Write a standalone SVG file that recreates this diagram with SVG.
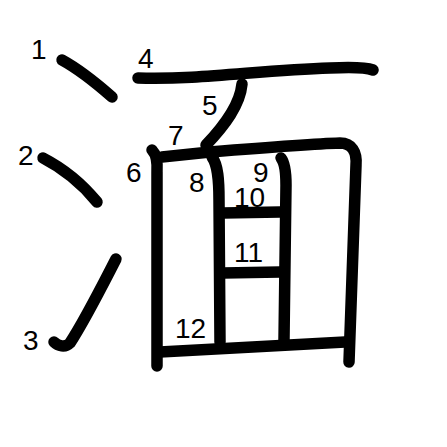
<svg xmlns="http://www.w3.org/2000/svg" width="447" height="447" viewBox="0 0 447 447">
<style>
.s{fill:none;stroke:#000;stroke-width:11.5;stroke-linecap:round;stroke-linejoin:round}
.n{font-family:"Liberation Sans",Arial,sans-serif;font-size:28px;fill:#000}
</style>
<rect width="447" height="447" fill="#fff"/>
<g id="strokes">
<path id="s1" class="s" d="M62,60 Q83,71.5 112,97"/>
<path id="s2" class="s" d="M43,158 Q74,174 97,202"/>
<path id="s3" class="s" d="M54,342 C58,346 65,348 70,343 C85,320 100,290 116,259"/>
<path id="s4" class="s" d="M138,78 C200,80 260,70 330,68 C350,67 365,67 373,70"/>
<path id="s5" class="s" d="M242,84 C240,105 225,125 206,145"/>
<path id="s6" class="s" d="M152,150 Q158,156 157,172 L157,366"/>
<path id="s7" class="s" d="M162,157 L210,152 C260,148 310,144 340,143 C352,143 357,152 356,165 L349,362"/>
<path id="s8" class="s" d="M212,157 C218,165 219,180 219,200 L220,342"/>
<path id="s9" class="s" d="M281,158 C285,163 286,172 286,185 L284,340"/>
<path id="s10" class="s" d="M223,213 L280,212"/>
<path id="s11" class="s" d="M223,273 L280,272"/>
<path id="s12" class="s" d="M160,352 L345,342"/>
</g>
<g id="labels">
<text class="n" x="31" y="59">1</text>
<text class="n" x="18" y="165">2</text>
<text class="n" x="23" y="350">3</text>
<text class="n" x="138" y="68">4</text>
<text class="n" x="202" y="115">5</text>
<text class="n" x="126" y="182">6</text>
<text class="n" x="168" y="145">7</text>
<text class="n" x="189" y="192">8</text>
<text class="n" x="253" y="182">9</text>
<text class="n" x="234" y="207">10</text>
<text class="n" x="234" y="262">11</text>
<text class="n" x="175" y="338">12</text>
</g>
</svg>
